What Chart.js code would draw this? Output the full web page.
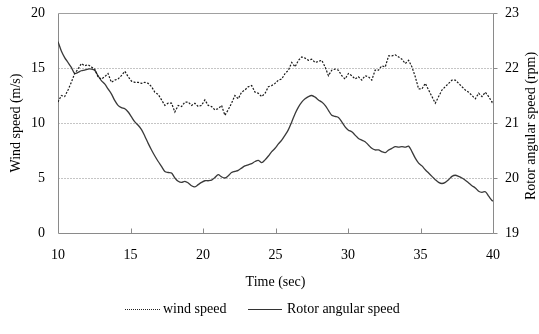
<!DOCTYPE html>
<html>
<head>
<meta charset="utf-8">
<script src="https://cdn.jsdelivr.net/npm/chart.js@4"></script>
<style>
  html, body { margin: 0; padding: 0; background: #fff; }
  #wrap { width: 539px; height: 334px; }
</style>
</head>
<body>
<div id="wrap"><canvas id="speedChart"></canvas></div>
<script>
// time samples (sec)
const time = [
  10.00, 10.23, 10.46, 10.69, 10.92, 11.15, 11.38, 11.61, 11.84, 12.07,
  12.30, 12.53, 12.76, 12.99, 13.22, 13.45, 13.68, 13.91, 14.14, 14.37,
  14.61, 14.84, 15.07, 15.30, 15.53, 15.76, 15.99, 16.22, 16.45, 16.68,
  16.91, 17.14, 17.37, 17.60, 17.83, 18.06, 18.29, 18.52, 18.75, 18.98,
  19.21, 19.44, 19.67, 19.90, 20.13, 20.36, 20.59, 20.82, 21.05, 21.28,
  21.51, 21.74, 21.97, 22.20, 22.43, 22.66, 22.89, 23.12, 23.36, 23.59,
  23.82, 24.05, 24.28, 24.51, 24.74, 24.97, 25.20, 25.43, 25.66, 25.89,
  26.12, 26.35, 26.58, 26.81, 27.04, 27.27, 27.50, 27.73, 27.96, 28.19,
  28.42, 28.65, 28.88, 29.11, 29.34, 29.57, 29.80, 30.03, 30.26, 30.49,
  30.72, 30.95, 31.18, 31.41, 31.64, 31.87, 32.10, 32.33, 32.57, 32.80,
  33.03, 33.26, 33.49, 33.72, 33.95, 34.18, 34.41, 34.64, 34.87, 35.10,
  35.33, 35.56, 35.79, 36.02, 36.25, 36.48, 36.71, 36.94, 37.17, 37.40,
  37.63, 37.86, 38.09, 38.32, 38.55, 38.78, 39.01, 39.24, 39.47, 39.70,
  39.93, 40.00
];

// wind speed (m/s), left axis
const windSpeed = [
  11.9, 12.5, 12.4, 13.0, 13.7, 14.5, 14.9, 15.4, 15.2, 15.3,
  15.1, 14.9, 14.2, 14.0, 14.2, 14.5, 13.7, 13.9, 14.0, 14.3,
  14.7, 14.2, 13.8, 13.7, 13.7, 13.6, 13.7, 13.6, 13.3, 12.8,
  12.6, 12.1, 11.6, 11.8, 11.8, 11.0, 11.6, 11.5, 11.9, 11.9,
  11.6, 11.8, 11.5, 11.6, 12.1, 11.6, 11.5, 11.2, 11.3, 11.6,
  10.7, 11.2, 11.8, 12.5, 12.2, 12.8, 13.0, 13.3, 13.4, 12.8,
  12.7, 12.4, 12.7, 13.3, 13.4, 13.6, 13.9, 14.0, 14.5, 14.8,
  15.5, 15.1, 15.7, 16.0, 15.9, 15.7, 15.8, 15.5, 15.6, 15.7,
  15.1, 14.3, 14.8, 14.9, 14.8, 14.3, 14.0, 14.5, 14.3, 14.0,
  14.2, 13.9, 14.3, 14.2, 13.9, 14.8, 14.8, 15.2, 15.1, 16.1,
  16.1, 16.2, 16.0, 15.8, 15.4, 15.7, 15.1, 14.2, 13.1, 13.1,
  13.6, 13.0, 12.4, 11.8, 12.4, 13.0, 13.3, 13.6, 13.9, 13.9,
  13.6, 13.3, 13.0, 12.8, 12.5, 12.2, 12.7, 12.4, 12.8, 12.4,
  11.9, 12.1
];

// rotor angular speed (rpm), right axis
const rotorSpeed = [
  22.48, 22.31, 22.19, 22.10, 22.01, 21.90, 21.92, 21.95, 21.96, 21.98,
  21.98, 21.96, 21.86, 21.77, 21.71, 21.62, 21.53, 21.41, 21.32, 21.28,
  21.26, 21.20, 21.11, 21.02, 20.96, 20.88, 20.76, 20.63, 20.51, 20.40,
  20.30, 20.21, 20.12, 20.10, 20.09, 20.00, 19.94, 19.92, 19.94, 19.91,
  19.86, 19.84, 19.88, 19.92, 19.95, 19.95, 19.96, 20.01, 20.06, 20.02,
  20.00, 20.04, 20.10, 20.12, 20.14, 20.18, 20.22, 20.24, 20.26, 20.30,
  20.32, 20.28, 20.33, 20.40, 20.48, 20.54, 20.62, 20.69, 20.78, 20.88,
  21.02, 21.17, 21.29, 21.38, 21.44, 21.48, 21.50, 21.47, 21.42, 21.38,
  21.32, 21.23, 21.14, 21.12, 21.10, 21.02, 20.93, 20.87, 20.84, 20.78,
  20.72, 20.69, 20.66, 20.60, 20.54, 20.51, 20.51, 20.48, 20.46, 20.51,
  20.54, 20.57, 20.56, 20.57, 20.56, 20.58, 20.48, 20.36, 20.27, 20.22,
  20.15, 20.09, 20.03, 19.97, 19.92, 19.90, 19.92, 19.97, 20.03, 20.05,
  20.03, 20.00, 19.96, 19.91, 19.86, 19.82, 19.76, 19.74, 19.75, 19.67,
  19.59, 19.58
];

const xTicks = [10, 15, 20, 25, 30, 35, 40];
const windTicks = [0, 5, 10, 15, 20];
const rotorTicks = [19, 20, 21, 22, 23];

const FONT = '"Liberation Serif", "Times New Roman", serif';

function toPoints(xs, ys) {
    return xs.map((x, i) => ({ x: x, y: ys[i] }));
}

// pin the axis boxes so the plot area sits at a fixed place
function fixBox(size) {
    return scale => {
        if (scale.isHorizontal()) {
            scale.height = size;
        } else {
            scale.width = size;
        }
        scale.paddingTop = 0;
        scale.paddingBottom = 0;
        scale.paddingLeft = 0;
        scale.paddingRight = 0;
    };
}

// frame, dotted grid, tick marks, axis titles and legend
const decorations = {
    id: 'decorations',
    beforeDatasetsDraw(chart) {
        const ctx = chart.ctx;
        const area = chart.chartArea;
        const y = chart.scales.y;
        const x = chart.scales.x;
        const y1 = chart.scales.y1;
        const L = Math.round(area.left) + 0.5;
        const R = Math.round(area.right) + 0.5;
        const T = Math.round(area.top) + 0.5;
        const B = Math.round(area.bottom) + 0.5;

        ctx.save();
        ctx.lineWidth = 1;

        // dotted grid lines
        ctx.strokeStyle = '#8a8a8a';
        ctx.setLineDash([1, 2]);
        windTicks.slice(1, -1).forEach(v => {
            const py = Math.round(y.getPixelForValue(v)) + 0.5;
            ctx.beginPath();
            ctx.moveTo(L, py);
            ctx.lineTo(R, py);
            ctx.stroke();
        });
        ctx.setLineDash([]);

        // top line
        ctx.strokeStyle = '#a0a0a0';
        ctx.beginPath();
        ctx.moveTo(L, T);
        ctx.lineTo(R, T);
        ctx.stroke();

        // axes
        ctx.strokeStyle = '#8a8a8a';
        ctx.beginPath();
        ctx.moveTo(L, T);
        ctx.lineTo(L, B);
        ctx.lineTo(R, B);
        ctx.lineTo(R, T);
        ctx.stroke();

        // inner ticks on the time axis
        xTicks.slice(1, -1).forEach(v => {
            const px = Math.round(x.getPixelForValue(v)) + 0.5;
            ctx.beginPath();
            ctx.moveTo(px, B);
            ctx.lineTo(px, B - 5);
            ctx.stroke();
        });

        // outer ticks on the right axis
        rotorTicks.forEach(v => {
            const py = Math.round(y1.getPixelForValue(v)) + 0.5;
            ctx.beginPath();
            ctx.moveTo(R, py);
            ctx.lineTo(R + 4, py);
            ctx.stroke();
        });
        ctx.restore();
    },
    afterDraw(chart) {
        const ctx = chart.ctx;
        const area = chart.chartArea;
        const midY = (area.top + area.bottom) / 2;

        ctx.save();
        ctx.fillStyle = '#000';
        ctx.font = '14px ' + FONT;
        ctx.textBaseline = 'middle';

        // axis titles
        ctx.textAlign = 'center';
        ctx.fillText('Time (sec)', (area.left + area.right) / 2, 282);

        ctx.save();
        ctx.translate(16, midY);
        ctx.rotate(-Math.PI / 2);
        ctx.fillText('Wind speed (m/s)', 0, 0);
        ctx.restore();

        ctx.save();
        ctx.translate(531, midY + 3);
        ctx.rotate(-Math.PI / 2);
        ctx.fillText('Rotor angular speed (rpm)', 0, 0);
        ctx.restore();

        // legend
        const ly = 309.5;
        ctx.lineWidth = 1;
        ctx.strokeStyle = '#222';
        ctx.setLineDash([1, 1]);
        ctx.beginPath();
        ctx.moveTo(125, ly);
        ctx.lineTo(160, ly);
        ctx.stroke();
        ctx.setLineDash([]);
        ctx.strokeStyle = '#333';
        ctx.lineWidth = 1.2;
        ctx.beginPath();
        ctx.moveTo(248, ly);
        ctx.lineTo(282, ly);
        ctx.stroke();

        ctx.textAlign = 'left';
        ctx.fillText('wind speed', 163, ly);
        ctx.fillText('Rotor angular speed', 287, ly);
        ctx.restore();
    }
};

const ctx = document.getElementById('speedChart').getContext('2d');

new Chart(ctx, {
    type: 'line',
    data: {
        datasets: [{
            label: 'wind speed',
            data: toPoints(time, windSpeed),
            yAxisID: 'y',
            borderColor: '#1a1a1a',
            borderWidth: 1.2,
            borderDash: [2, 1.5],
            pointRadius: 0,
            tension: 0
        }, {
            label: 'Rotor angular speed',
            data: toPoints(time, rotorSpeed),
            yAxisID: 'y1',
            borderColor: '#3a3a3a',
            borderWidth: 1.3,
            pointRadius: 0,
            tension: 0.3
        }]
    },
    options: {
        responsive: true,
        maintainAspectRatio: false,
        animation: false,
        layout: { padding: { top: 13, bottom: 0, left: 0, right: 0 } },
        plugins: {
            legend: { display: false },
            tooltip: { enabled: false }
        },
        scales: {
            x: {
                type: 'linear',
                min: 10,
                max: 40,
                afterBuildTicks: scale => { scale.ticks = xTicks.map(v => ({ value: v })); },
                afterFit: fixBox(101),
                grid: { display: false, drawTicks: false },
                border: { display: false },
                ticks: {
                    color: '#000',
                    padding: 14,
                    maxRotation: 0,
                    font: { family: FONT, size: 14 }
                }
            },
            y: {
                position: 'left',
                min: 0,
                max: 20,
                afterBuildTicks: scale => { scale.ticks = windTicks.map(v => ({ value: v })); },
                afterFit: fixBox(58),
                grid: { display: false, drawTicks: false },
                border: { display: false },
                ticks: {
                    color: '#000',
                    padding: 13,
                    font: { family: FONT, size: 14 }
                }
            },
            y1: {
                position: 'right',
                min: 19,
                max: 23,
                afterBuildTicks: scale => { scale.ticks = rotorTicks.map(v => ({ value: v })); },
                afterFit: fixBox(46),
                grid: { display: false, drawTicks: false },
                border: { display: false },
                ticks: {
                    color: '#000',
                    padding: 12,
                    font: { family: FONT, size: 14 }
                }
            }
        }
    },
    plugins: [decorations]
});
</script>
</body>
</html>
